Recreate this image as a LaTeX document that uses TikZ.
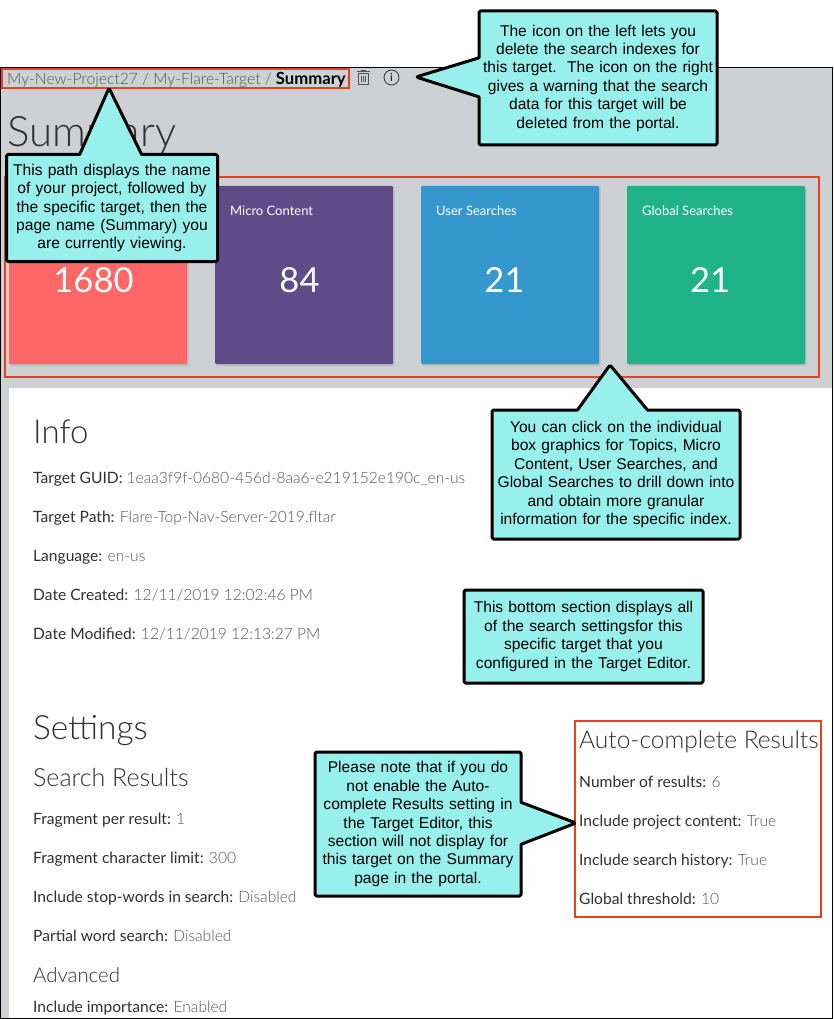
\documentclass[tikz,border=0pt]{standalone}
\usepackage{fontspec}
\usetikzlibrary{shapes.callouts,shadows}
\setmainfont{Lato}
\newfontfamily\lightfont{Lato Light}
\newfontfamily\noteFont{Liberation Sans}
\definecolor{pagegrey}{HTML}{CED1D4}
\definecolor{notecyan}{HTML}{98F0EC}
\definecolor{markred}{HTML}{E8421C}
\definecolor{keygrey}{HTML}{303030}
\definecolor{valgrey}{HTML}{555555}
\newcommand{\kv}[2]{{\color{keygrey}#1} {\lightfont\color{valgrey}#2}}
\begin{document}
\begin{tikzpicture}[x=1pt, y=-1pt,
    note/.style={fill=notecyan, draw=black, line width=3pt, line join=round, rounded corners=1.5pt, outer sep=0pt, inner sep=0pt, align=center, font=\noteFont\fontsize{15.6}{18.4}\selectfont},
    notecall/.style={note, rectangle callout},
    redbox/.style={draw=markred, line width=2.3pt},
    card/.style={rounded corners=1pt, minimum size=178pt, inner sep=0pt, drop shadow={opacity=0.25, shadow xshift=1.5pt, shadow yshift=-2pt}},
    cardtitle/.style={anchor=base west, inner sep=0pt, text=white, font=\fontsize{13}{15}\selectfont},
    cardnum/.style={text=white, font=\fontsize{34.5}{40}\selectfont},
    row/.style={anchor=base west, inner sep=0pt, font=\fontsize{15.6}{18}\selectfont},
    heading/.style={anchor=base west, inner sep=0pt, text=keygrey, font=\lightfont\fontsize{#1}{#1}\selectfont}]
    \path[use as bounding box] (0,0) rectangle (833,1019);
    \fill[pagegrey] (0,67) rectangle (833,1019);
    \fill[white] (9,388) rectangle (833,1018);

    \node[row, text=valgrey, font=\lightfont\fontsize{15.7}{18}\selectfont] (crumb) at (7,85) {My-New-Project27 / My-Flare-Target / {\fontspec{Lato Bold}\fontsize{16.7}{18}\selectfont\color{black}Summary}};
    \node[heading=42] (summary) at (7,147) {Summary};

    \draw[valgrey, line width=0.8pt] (358,73.5) rectangle (368,84.5) (356.5,71.5) -- (369.5,71.5) (360.5,70) -- (365.5,70) (361,76) -- (361,82) (363,76) -- (363,82) (365,76) -- (365,82);
    \node[circle, draw=keygrey, line width=0.8pt, minimum size=15pt, inner sep=0pt, font=\fontsize{11}{11}\selectfont] (warn) at (391.5,77.5) {i};

    \node[card, fill={rgb,255:red,255;green,102;blue,102}] (topics) at (98,275) {};
    \node[card, fill={rgb,255:red,95;green,75;blue,135}] (micro) at (304,275) {};
    \node[card, fill={rgb,255:red,52;green,152;blue,204}] (user) at (510,275) {};
    \node[card, fill={rgb,255:red,32;green,179;blue,138}] (global) at (716,275) {};
    \node[cardtitle] (microtitle) at (230,215.5) {Micro Content};
    \node[cardtitle] (usertitle) at (436,215.5) {User Searches};
    \node[cardtitle] (globaltitle) at (642,215.5) {Global Searches};
    \node[cardnum] (topicsnum) at (93.5,280) {1680};
    \node[cardnum] (micronum) at (299.5,280) {84};
    \node[cardnum] (usernum) at (504.5,280) {21};
    \node[cardnum] (globalnum) at (710,280) {21};

    \node[heading=33] (info) at (33,443) {Info};
    \node[row] (guid) at (33,483) {\kv{Target GUID:}{1eaa3f9f-0680-456d-8aa6-e219152e190c\_en-us}};
    \node[row] (tpath) at (33,522) {\kv{Target Path:}{Flare-Top-Nav-Server-2019.fltar}};
    \node[row] (lang) at (33,561) {\kv{Language:}{en-us}};
    \node[row] (created) at (33,600) {\kv{Date Created:}{12/11/2019 12:02:46 PM}};
    \node[row] (modified) at (33,639) {\kv{Date Modified:}{12/11/2019 12:13:27 PM}};

    \node[heading=33.5] (settings) at (33,739) {Settings};
    \node[heading=25] (results) at (33,786) {Search Results};
    \node[row] (fragment) at (33,824) {\kv{Fragment per result:}{1}};
    \node[row] (limit) at (33,863) {\kv{Fragment character limit:}{300}};
    \node[row] (stop) at (33,902) {\kv{Include stop-words in search:}{Disabled}};
    \node[row] (partial) at (33,941) {\kv{Partial word search:}{Disabled}};
    \node[heading=20.4] (advanced) at (33,982) {Advanced};
    \node[row] (importance) at (33,1012) {\kv{Include importance:}{Enabled}};

    \node[heading=24.5] (auto) at (579,748) {Auto-complete Results};
    \node[row] (number) at (579,787) {\kv{Number of results:}{6}};
    \node[row] (project) at (579,826) {\kv{Include project content:}{True}};
    \node[row] (history) at (579,865) {\kv{Include search history:}{True}};
    \node[row] (threshold) at (579,904) {\kv{Global threshold:}{10}};

    \draw[redbox] (2,69) rectangle (349,88);
    \draw[redbox] (5,177) rectangle (819,377);
    \draw[redbox] (575,721) rectangle (821,917);
    \draw[black] (0.5,67.5) rectangle (832.5,1018.5);

    \coordinate (pathtip) at (109,88);
    \coordinate (icontip) at (416,77);
    \coordinate (boxtip) at (610,365);
    \coordinate (autotip) at (576,823);

    \node[notecall, callout absolute pointer=(pathtip), callout pointer width=62pt, minimum width=211pt, minimum height=107pt, text width=205pt] (pathnote) at (112,208) {This path displays the name\\of your project, followed by\\the specific target, then the\\page name (Summary) you\\are currently viewing.};
    \node[notecall, callout absolute pointer=(icontip), callout pointer width=39pt, minimum width=238pt, minimum height=134pt, text width=232pt] (iconnote) at (598,78) {The icon on the left lets you\\delete the search indexes for\\this target.\ \ The icon on the right\\gives a warning that the search\\data for this target will be\\deleted from the portal.};
    \node[notecall, callout absolute pointer=(boxtip), callout pointer width=70pt, minimum width=248pt, minimum height=129pt, text width=242pt] (cardnote) at (616,474.5) {You can click on the individual\\box graphics for Topics, Micro\\Content, User Searches, and\\Global Searches to drill down into\\and obtain more granular\\information for the specific index.};
    \node[note, rectangle, minimum width=239pt, minimum height=93pt, text width=233pt] (bottomnote) at (583.5,636.5) {This bottom section displays all\\of the search settingsfor this\\specific target that you\\configured in the Target Editor.};
    \node[notecall, callout absolute pointer=(autotip), callout pointer width=42pt, minimum width=206pt, minimum height=144pt, text width=200pt] (autonote) at (418,824) {Please note that if you do\\not enable the Auto-\\complete Results setting in\\the Target Editor, this\\section will not display for\\this target on the Summary\\page in the portal.};
\end{tikzpicture}
\end{document}
